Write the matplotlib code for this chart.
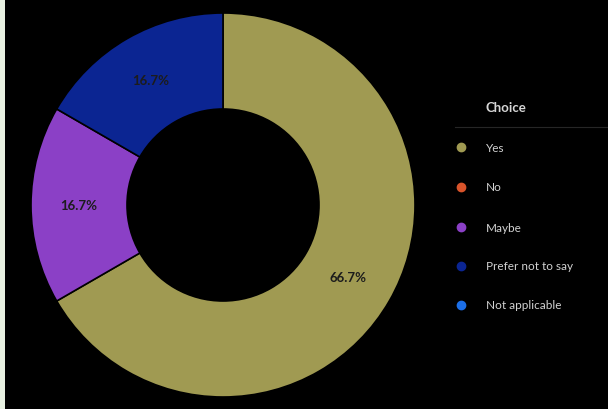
import matplotlib
matplotlib.use("Agg")
import matplotlib.pyplot as plt
from matplotlib.lines import Line2D

# Survey responses by choice
choices = ["Yes", "No", "Maybe", "Prefer not to say", "Not applicable"]
counts = [4, 0, 1, 1, 0]
colors = ["#a09a52", "#d9542b", "#8b40c6", "#0b2592", "#1c6fe8"]
legend_title = "Choice"

W, H = 608, 410
fig = plt.figure(figsize=(W / 100, H / 100), dpi=100)
fig.patch.set_facecolor("#000000")

# thin light strip on the left edge
fig.patches.append(plt.Rectangle((0, 0), 5 / W, 1, transform=fig.transFigure,
                                 facecolor="#e8f1e2", edgecolor="none", zorder=0))

# donut axes
cx, cy, r = 223, 204, 192
ax = fig.add_axes([(cx - r) / W, (cy - r) / H, 2 * r / W, 2 * r / H])
ax.set_facecolor("#000000")

vals = [c for c in counts if c > 0]
cols = [col for c, col in zip(counts, colors) if c > 0]

wedges, texts, autotexts = ax.pie(
    vals, colors=cols, startangle=90, counterclock=False, radius=1.0,
    autopct=lambda p: f"{p:.1f}%", pctdistance=0.75,
    wedgeprops=dict(width=0.5, edgecolor="#000000", linewidth=1.2),
    textprops=dict(color="#1c1c1c", fontsize=9.5, fontweight="bold", family="Lato"),
)
ax.set_xlim(-1, 1)
ax.set_ylim(-1, 1)
ax.set_aspect("equal")
ax.axis("off")

# legend
lx_marker, lx_text = 461 / W, 486 / W
fig.text(lx_text, 1 - 108 / H, legend_title, color="#d6d6d6", fontsize=9.5,
         fontweight="bold", family="Lato", va="center", ha="left")
fig.add_artist(Line2D([455 / W, 1.0], [1 - 128 / H] * 2, transform=fig.transFigure,
                      color="#262626", linewidth=0.8))
ys = [148, 188, 228, 267, 306]
for name, col, y in zip(choices, colors, ys):
    fy = 1 - y / H
    fig.add_artist(Line2D([lx_marker], [fy], transform=fig.transFigure, marker="o",
                          markersize=6, color=col, linestyle="none"))
    fig.text(lx_text, fy, name, color="#d2d2d2", fontsize=8.5, family="Lato",
             va="center", ha="left")

fig.savefig("out.png", dpi=100, facecolor=fig.get_facecolor())
